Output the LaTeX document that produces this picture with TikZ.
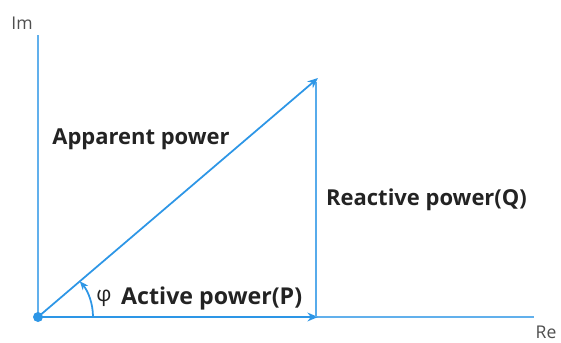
\documentclass[tikz,border=0pt]{standalone}
\usepackage{fontspec}
\setmainfont{Open Sans}
\usepackage{tikz}
\usetikzlibrary{arrows.meta}

\definecolor{phasorblue}{RGB}{45,150,230}
\definecolor{labelgray}{RGB}{35,35,35}

\tikzset{
    axisline/.style={phasorblue!75, line width=0.9pt},
    phasor/.style={phasorblue, line width=1pt, -{Stealth[length=6pt,width=5pt]}},
    powerlabel/.style={labelgray, font=\bfseries\fontsize{12.5}{14}\selectfont},
    axislabel/.style={labelgray!80, font=\fontsize{10}{12}\selectfont}
}

\begin{document}
\begin{tikzpicture}[x=0.02cm, y=-0.02cm]
    \useasboundingbox (0,0) rectangle (561,342);
    % Corner points of the power triangle (pixel grid, y downwards)
    \coordinate (O) at (38,317);
    \coordinate (P) at (318,317);
    \coordinate (S) at (318,78);
    \coordinate (Qb) at (316,317);
    \coordinate (Qt) at (316,82);
    \coordinate (ImEnd) at (38,35);
    \coordinate (ReEnd) at (534,317);
    % Axes
    \draw[axisline] (O) -- (ImEnd);
    \draw[axisline] (O) -- (ReEnd);
    \node[axislabel, anchor=south] (im) at (22,36) {Im};
    \node[axislabel, anchor=north] (re) at (546,320) {Re};
    % Triangle sides
    \draw[phasor] (O) -- (P);
    \draw[phasorblue!80, line width=0.9pt] (Qb) -- (Qt);
    \draw[phasor] (O) -- (S);
    \fill[phasorblue] (O) circle (5);
    % Angle between P and S
    \draw[phasorblue, line width=1pt, -{Stealth[length=5pt,width=4pt]}] (93,317) arc[start angle=0, end angle=-40.5, radius=55];
    % Labels
    \node[powerlabel] (apparent) at (141,139) {Apparent power};
    \node[powerlabel, anchor=west] (reactive) at (320,200) {Reactive power(Q)};
    \node[labelgray, font=\fontsize{12}{14}\selectfont] (phi) at (104,298) {φ};
    \node[powerlabel, anchor=west, font=\bfseries\fontsize{13.2}{15}\selectfont] (active) at (115,298) {Active power(P)};
\end{tikzpicture}
\end{document}
